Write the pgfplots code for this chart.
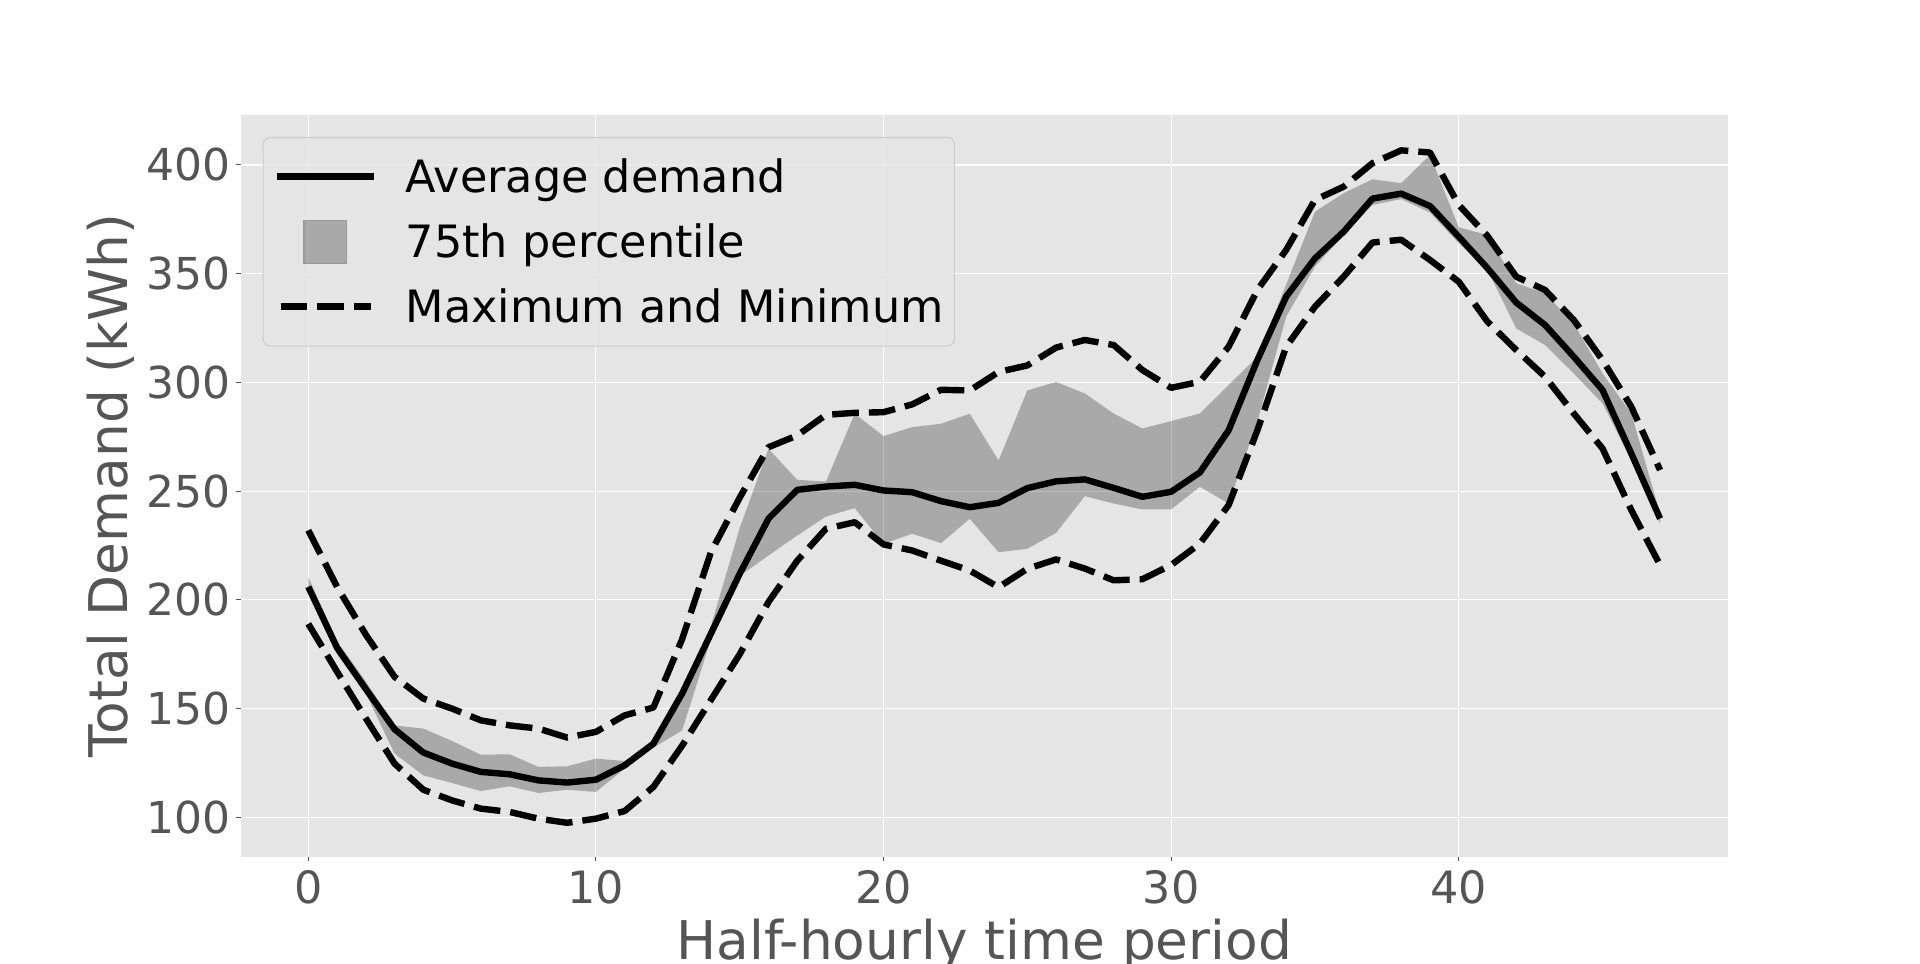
\documentclass[border=0pt]{standalone}
\usepackage{fontspec}
\setmainfont{DejaVu Sans}
\usepackage{pgfplots}
\pgfplotsset{compat=1.18}
\usepackage{pgfplotstable}
\usepgfplotslibrary{fillbetween}
\definecolor{bgcol}{HTML}{E5E5E5}
\definecolor{txtgray}{HTML}{555555}
\definecolor{legedge}{HTML}{CCCCCC}
\definecolor{patchedge}{HTML}{999999}

\pgfplotstableread{
k avg max min bu bl
0 206 232 189 210.5 204.5
1 178 206 167 181 175
2 159 184 145.5 162.5 157
3 140.5 164.6 124.7 142.3 129.3
4 129.8 154.6 112.7 140.8 119.3
5 124.7 150 107.8 135.1 115.8
6 120.9 144.6 104 128.8 112.1
7 119.8 142.3 102.5 129 114.3
8 117 140.8 99.4 123.2 111.2
9 116 136.7 97.5 123.5 112.7
10 117.3 139.3 99.4 127 111.7
11 123.9 146.9 102.9 125.9 122.4
12 133.9 150.5 114 134.5 132
13 157 182 133 157.5 140
14 184.5 222 154 188 182
15 212 247 175 233 211
16 237.3 270.2 199 269.5 220.4
17 250.6 275.6 218 255.2 229.6
18 252.1 285.1 232.7 254.4 238.3
19 252.9 286 235.7 285.6 242.2
20 250.3 286.3 225.5 275.3 225.8
21 249.5 289.9 222.7 279.4 230.4
22 245.4 296.6 218 281 226.1
23 242.6 296.3 213.5 285.6 237.3
24 244.6 304.8 205.8 264.1 221.9
25 251.4 307.8 214.3 296.3 223.5
26 254.5 316 218.6 300.2 230.8
27 255.4 319.5 214.4 294.9 247.7
28 251.5 317.2 209 285.7 244.3
29 247.4 305.7 209.5 278.8 241.6
30 249.7 297.5 216 282.2 241.6
31 258.6 300.3 225.9 285.7 252
32 278 316.4 243.6 298.8 244.3
33 310.3 342.5 278 311.8 282
34 339.4 360.9 316.4 345 330.2
35 357 383.9 334.8 378.5 353.2
36 369.3 390 348.6 387 367.8
37 384.5 400.8 364.3 393.4 381.6
38 386.8 406.7 365.6 391.6 384.3
39 381.1 405.7 356.3 404.6 378.1
40 367 381.6 346.3 371.3 364
41 352.5 367.3 327.9 367.8 351.7
42 336.7 348.6 314.9 345.6 324.8
43 326.4 342.5 302.6 341 317.2
44 311.8 328.7 285.7 327.1 304.1
45 296.5 310.3 269.6 304.1 290.3
46 267.3 288.8 241.3 285.7 264.3
47 237.4 259.7 216 239.7 235.1
}\data

\begin{document}
\begin{tikzpicture}
\begin{axis}[
  at={(90.26pt,39.86pt)}, anchor=south west,
  scale only axis,
  width=557.6pt, height=278.1pt,
  xmin=-2.35, xmax=49.35,
  ymin=81.9, ymax=422.9,
  xtick={0,10,20,30,40},
  ytick={100,150,200,250,300,350,400},
  axis background/.style={fill=bgcol},
  axis line style={draw=none},
  grid=major,
  major grid style={white, line width=0.45pt},
  tick align=outside,
  xtick pos=bottom, ytick pos=left,
  major tick length=1.6pt,
  tick style={color=txtgray, line width=0.35pt},
  /pgf/number format/assume math mode=true,
  xticklabel style={font=\fontsize{16.7}{20}\selectfont, color=txtgray, anchor=north, inner sep=0pt, yshift=-3.5pt},
  yticklabel style={font=\fontsize{16.5}{20}\selectfont, color=txtgray, anchor=east, inner sep=0pt, xshift=-2.1pt},
  xlabel={Half-hourly time period},
  ylabel={Total Demand (kWh)},
  xlabel style={font=\fontsize{20}{24}\selectfont, color=txtgray, at={(axis description cs:0.5,-0.1386)}, anchor=base},
  ylabel style={font=\fontsize{20}{24}\selectfont, color=txtgray, at={(axis description cs:-0.0761,0.5)}, anchor=base},
  legend cell align=left,
  legend style={
    at={(axis description cs:0.01479,0.9705)}, anchor=north west,
    fill=bgcol, fill opacity=0.8, text opacity=1, draw opacity=1,
    draw=legedge, line width=0.4pt, rounded corners=2.6pt,
    font=\fontsize{16.7}{20}\selectfont,
    inner xsep=4pt, inner ysep=6.7pt,
    row sep=8.2pt,
    nodes={inner sep=0pt, text height=14pt, text depth=2pt, text=black},
    /tikz/every odd column/.append style={column sep=10.6pt},
  },
]
\addplot[draw=none, name path=bu, forget plot] table[x=k, y=bu] {\data};
\addplot[draw=none, name path=bl, forget plot] table[x=k, y=bl] {\data};
\addplot[fill=black, fill opacity=0.26, draw=none, forget plot] fill between[of=bu and bl];
\addplot[black, line width=2.4pt, line join=round, forget plot] table[x=k, y=avg] {\data};
\addplot[black, line width=2.4pt, line join=round, dash pattern=on 10pt off 3.75pt, forget plot] table[x=k, y=max] {\data};
\addplot[black, line width=2.4pt, line join=round, dash pattern=on 10pt off 3.75pt, forget plot] table[x=k, y=min] {\data};

\addlegendimage{legend image code/.code={\draw[black, line width=2.6pt, opacity=1] (0pt,0pt) -- (36.3pt,0pt);}}
\addlegendentry{Average demand}
\addlegendimage{legend image code/.code={\draw[fill=black, fill opacity=0.26, draw=patchedge, draw opacity=1, line width=0.4pt, rounded corners=0pt] (10pt,-8pt) rectangle (26pt,8pt);}}
\addlegendentry{75th percentile}
\addlegendimage{legend image code/.code={\draw[black, line width=2.6pt, opacity=1, dash pattern=on 10pt off 3.75pt] (1.2pt,0pt) -- (35pt,0pt);}}
\addlegendentry{Maximum and Minimum}
\end{axis}
\pgfresetboundingbox
\path (0,0) rectangle (720pt,361.125pt);
\end{tikzpicture}
\end{document}
